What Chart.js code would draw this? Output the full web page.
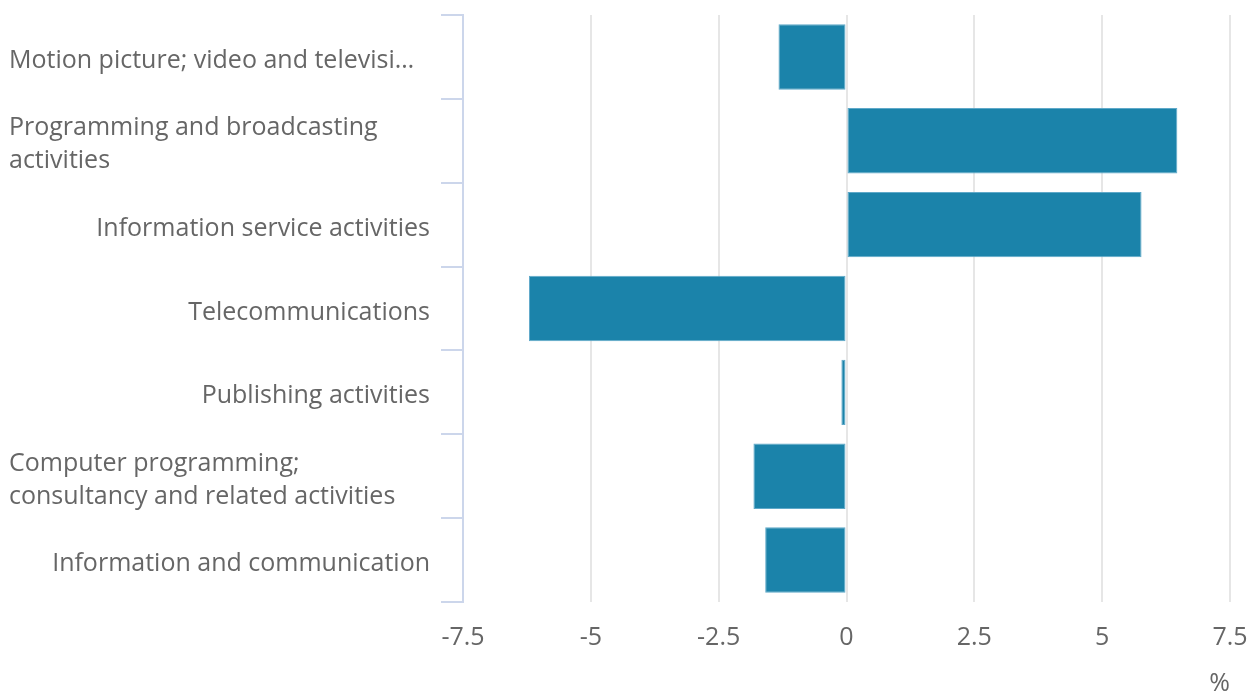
<!DOCTYPE html>
<html>
<head>
<meta charset="utf-8">
<script src="https://cdn.jsdelivr.net/npm/chart.js@4/dist/chart.umd.min.js"></script>
<style>
  html,body{margin:0;padding:0;background:#fff;}
  #wrap{width:1250px;height:693px;position:relative;}
</style>
</head>
<body>
<div id="wrap"><canvas id="chart"></canvas></div>
<script>
// categories, top to bottom (wrapped lines as arrays)
const categories = [
  'Motion picture; video and televisi\u2026',
  ['Programming and broadcasting', 'activities'],
  'Information service activities',
  'Telecommunications',
  'Publishing activities',
  ['Computer programming;', 'consultancy and related activities'],
  'Information and communication'
];
// % change
const values = [-1.33, 6.47, 5.77, -6.21, -0.10, -1.82, -1.59];
const xTicks = [-7.5, -5, -2.5, 0, 2.5, 5, 7.5];

const FONT = '"Open Sans", sans-serif';
const FS = 25;
const TXT = '#666666';
const AXIS = '#ccd6eb';

// y labels drawn by hand: wrapped/truncated ones sit flush left, the rest flush right
const yLabels = {
  id: 'yLabels',
  afterDraw(chart){
    const {ctx, scales:{y}, chartArea} = chart;
    ctx.save();
    ctx.font = `${FS}px ${FONT}`;
    ctx.fillStyle = TXT;
    ctx.textBaseline = 'middle';
    const lh = 33;
    categories.forEach((lab, i) => {
      const lines = Array.isArray(lab) ? lab : [lab];
      const flushLeft = lines.length > 1 || lines[0].endsWith('\u2026');
      const cy = y.getPixelForValue(i) + 4;
      lines.forEach((t, k) => {
        const ly = cy + (k - (lines.length - 1) / 2) * lh;
        if (flushLeft){ ctx.textAlign = 'left'; ctx.fillText(t, 9, ly); }
        else { ctx.textAlign = 'right'; ctx.fillText(t, chartArea.left - 33, ly); }
      });
    });
    ctx.restore();
  }
};

new Chart(document.getElementById('chart'), {
  type: 'bar',
  data: {
    labels: categories.map(l => Array.isArray(l) ? l.join(' ') : l),
    datasets: [{
      data: values,
      backgroundColor: '#1b83aa',
      borderColor: '#5fa9c9',
      borderWidth: 1,
      borderSkipped: false,
      categoryPercentage: 1,
      barPercentage: 0.78
    }]
  },
  options: {
    indexAxis: 'y',
    responsive: true,
    maintainAspectRatio: false,
    animation: false,
    layout: { padding: { top: 15, right: 0, left: 0, bottom: 0 } },
    plugins: { legend: { display: false }, tooltip: { enabled: false } },
    scales: {
      x: {
        min: -7.5, max: 7.5,
        afterBuildTicks: s => { s.ticks = xTicks.map(v => ({ value: v })); },
        afterFit: s => { s.height = 91; s.paddingRight = 20; },
        border: { display: false },
        grid: {
          drawTicks: false,
          lineWidth: 2,
          color: c => (c.tick && c.tick.value === -7.5) ? 'rgba(0,0,0,0)' : '#e6e6e6'
        },
        ticks: {
          padding: 21,
          maxRotation: 0,
          color: TXT,
          font: { family: FONT, size: FS }
        },
        title: {
          display: true, text: '%', align: 'end',
          color: TXT, font: { family: FONT, size: FS },
          padding: { top: 0, bottom: -6 }
        }
      },
      y: {
        afterFit: s => { s.width = 463; },
        ticks: { display: false },
        border: { display: true, color: AXIS, width: 2 },
        grid: {
          offset: true,
          drawOnChartArea: false,
          drawTicks: true,
          tickLength: 22,
          lineWidth: 2,
          color: AXIS
        }
      }
    }
  },
  plugins: [yLabels]
});
</script>
</body>
</html>
